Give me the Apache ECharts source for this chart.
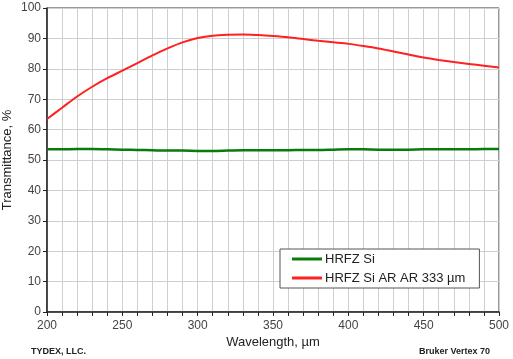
<!DOCTYPE html>
<html><head><meta charset="utf-8">
<script src="https://cdn.jsdelivr.net/npm/echarts@6/dist/echarts.min.js"></script>
<style>html,body{margin:0;padding:0;background:#fff}#c{width:513px;height:359px}</style>
</head><body><div id="c"></div>
<script>
const wavelengths = [200,210,220,230,240,250,260,270,280,290,300,310,320,330,340,350,360,370,380,390,400,410,420,430,440,450,460,470,480,490,500];
const hrfzSi = [53.5,53.5,53.6,53.6,53.5,53.4,53.3,53.2,53.1,53.1,53.0,53.0,53.1,53.2,53.2,53.2,53.2,53.3,53.3,53.4,53.5,53.5,53.4,53.4,53.4,53.5,53.5,53.5,53.5,53.6,53.6];
const hrfzSiAR = [63.5,67.2,70.9,74.1,76.9,79.4,81.9,84.4,86.7,88.7,90.1,90.9,91.2,91.3,91.1,90.8,90.4,89.8,89.2,88.7,88.2,87.5,86.7,85.7,84.7,83.7,82.9,82.2,81.6,81.0,80.4];
const seriesNames = ['HRFZ Si', 'HRFZ Si AR AR 333 µm'];
const xTitle = 'Wavelength, µm';
const yTitle = 'Transmittance, %';
const footerLeft = 'TYDEX, LLC.';
const footerRight = 'Bruker Vertex 70';

const chart = echarts.init(document.getElementById('c'), null, {renderer:'canvas'});
const font = 'Liberation Sans, Arial, sans-serif';
chart.setOption({
  animation:false,
  backgroundColor:'#fff',
  textStyle:{fontFamily:font},
  grid:{left:47,right:14,top:8,bottom:47,show:true,borderColor:'#333',borderWidth:1,backgroundColor:'transparent',
    containLabel:false,outerBoundsMode:'none'},
  xAxis:{type:'value',min:200,max:500,interval:10,
    name:xTitle,nameLocation:'middle',nameGap:24,nameMoveOverlap:false,
    nameTextStyle:{fontFamily:font,fontSize:13,color:'#222'},
    axisLine:{show:true,onZero:false,lineStyle:{color:'#222',width:1.5}},
    axisTick:{show:true,length:4,lineStyle:{color:'#222'}},
    axisLabel:{fontFamily:font,fontSize:12,color:'#444',margin:8,
      formatter:v=> (v%50===0? String(v):'')},
    splitLine:{show:true,lineStyle:{color:'#cfcfcf',width:1}}},
  yAxis:{type:'value',min:0,max:100,interval:10,
    name:yTitle,nameLocation:'middle',nameGap:33,nameMoveOverlap:false,
    nameTextStyle:{fontFamily:font,fontSize:13,color:'#222'},
    axisLine:{show:true,lineStyle:{color:'#222',width:1.5}},
    axisTick:{show:true,length:4,lineStyle:{color:'#222'}},
    axisLabel:{fontFamily:font,fontSize:12,color:'#444',margin:6},
    splitLine:{show:true,lineStyle:{color:'#cfcfcf',width:1}}},
  legend:{orient:'vertical',left:280,top:249,
    padding:[3,14,3,12],itemGap:5,itemWidth:30,itemHeight:3,icon:'rect',
    borderColor:'#555',borderWidth:1,backgroundColor:'#fff',
    textStyle:{fontFamily:font,fontSize:13,color:'#222',lineHeight:14,height:14,padding:[0,0,0,-2]},
    data:seriesNames},
  series:[
    {name:seriesNames[0],type:'line',data:wavelengths.map((w,i)=>[w,hrfzSi[i]]),
     smooth:0.3,symbol:'none',lineStyle:{color:'#0a7a0a',width:2.5},itemStyle:{color:'#0a7a0a'}},
    {name:seriesNames[1],type:'line',data:wavelengths.map((w,i)=>[w,hrfzSiAR[i]]),
     smooth:0.3,symbol:'none',lineStyle:{color:'#ff2020',width:2},itemStyle:{color:'#ff2020'}}
  ],
  graphic:[
    {type:'text',left:31,top:347,style:{text:footerLeft,font:'bold 9px '+font,fill:'#222'}},
    {type:'text',right:23,top:347,style:{text:footerRight,font:'bold 9px '+font,fill:'#222'}}
  ]
});
</script></body></html>
